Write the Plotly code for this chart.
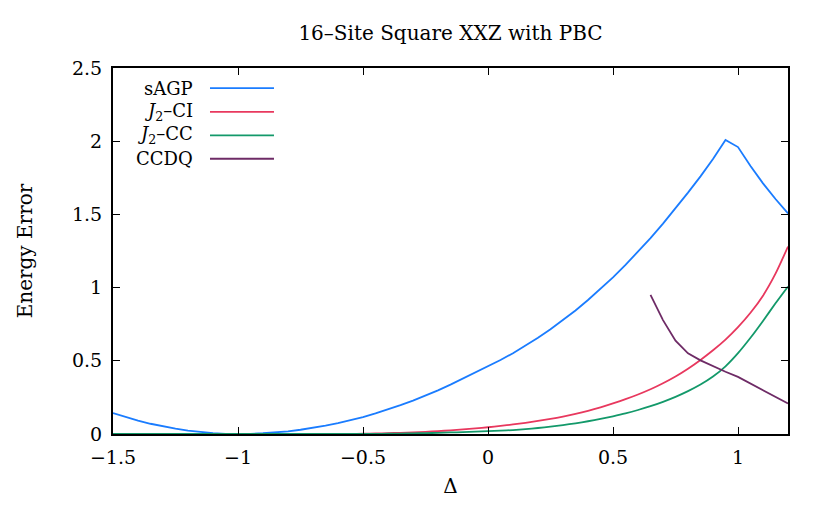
import plotly.graph_objects as go

# ---- data ----
delta = [-1.5, -1.45, -1.4, -1.35, -1.3, -1.25, -1.2, -1.15, -1.1, -1.05, -1.0, -0.95, -0.9, -0.85, -0.8,
         -0.75, -0.7, -0.65, -0.6, -0.55, -0.5, -0.45, -0.4, -0.35, -0.3, -0.25, -0.2, -0.15, -0.1, -0.05,
         0.0, 0.05, 0.1, 0.15, 0.2, 0.25, 0.3, 0.35, 0.4, 0.45, 0.5, 0.55, 0.6, 0.65, 0.7, 0.75, 0.8, 0.85,
         0.9, 0.95, 1.0, 1.05, 1.1, 1.15, 1.2]
sagp = [0.143, 0.116, 0.091, 0.070, 0.051, 0.036, 0.023, 0.013, 0.006, 0.0014, 0.0, 0.001, 0.005, 0.0105, 0.0186,
        0.029, 0.042, 0.057, 0.0745, 0.094, 0.116, 0.141, 0.168, 0.197, 0.228, 0.262, 0.298, 0.337, 0.378, 0.420,
        0.462, 0.505, 0.552, 0.602, 0.657, 0.715, 0.777, 0.844, 0.915, 0.990, 1.070, 1.155, 1.244, 1.338, 1.437,
        1.540, 1.649, 1.760, 1.879, 2.008, 1.960, 1.830, 1.712, 1.605, 1.507]
j2_ci = [0.0, 0.0, 0.0, 0.0, 0.0, 0.0, 0.0, 0.0, 0.0, 0.0, 0.0, 0.0, 0.0, 0.0, 0.0,
         0.0, 0.0, 0.0, 0.0005, 0.001, 0.002, 0.0035, 0.0055, 0.008, 0.011, 0.015, 0.0195, 0.025, 0.031, 0.038,
         0.046, 0.055, 0.065, 0.076, 0.089, 0.103, 0.119, 0.137, 0.158, 0.182, 0.209, 0.238, 0.270, 0.306, 0.347,
         0.393, 0.446, 0.506, 0.572, 0.645, 0.730, 0.828, 0.945, 1.095, 1.280]
j2_cc = [0.0, 0.0, 0.0, 0.0, 0.0, 0.0, 0.0, 0.0, 0.0, 0.0, 0.0, 0.0, 0.0, 0.0, 0.0,
         0.0, 0.0, 0.0, 0.0, 0.0, 0.0005, 0.001, 0.002, 0.003, 0.0045, 0.006, 0.008, 0.0105, 0.013, 0.016,
         0.020, 0.023, 0.027, 0.033, 0.041, 0.050, 0.061, 0.073, 0.087, 0.103, 0.121, 0.141, 0.164, 0.190, 0.220,
         0.254, 0.293, 0.338, 0.3925, 0.4625, 0.5525, 0.6575, 0.7725, 0.8925, 1.0075]

delta_ccdq = [0.65, 0.7, 0.75, 0.8, 0.85, 0.9, 0.95, 1.0, 1.05, 1.1, 1.15, 1.2]
ccdq = [0.95, 0.778, 0.638, 0.551, 0.503, 0.462, 0.425, 0.39, 0.345, 0.299, 0.254, 0.208]

series_names = ["sAGP", "<i>J</i><sub>2</sub>–CI", "<i>J</i><sub>2</sub>–CC", "CCDQ"]
series_colors = ["#1a7cff", "#e8385e", "#13996a", "#6e2b66"]
series_shapes = ["linear", "spline", "spline", "linear"]

x_ticks = [-1.5, -1, -0.5, 0, 0.5, 1]
y_ticks = [0, 0.5, 1, 1.5, 2, 2.5]

FONT = "DejaVu Serif"

fig = go.Figure()
xs = [delta, delta, delta, delta_ccdq]
ys = [sagp, j2_ci, j2_cc, ccdq]
for x, y, name, c, shp in zip(xs, ys, series_names, series_colors, series_shapes):
    fig.add_trace(go.Scatter(x=x, y=y, mode="lines", name=name,
                             line=dict(color=c, width=1.8, shape=shp, smoothing=0.6),
                             showlegend=False))

# gnuplot-style legend: right-aligned text followed by a line sample
leg_y = [0.945, 0.880, 0.816, 0.752]
for name, c, ly in zip(series_names, series_colors, leg_y):
    fig.add_annotation(x=0.1215, y=ly, xref="paper", yref="paper", text=name,
                       showarrow=False, xanchor="right", yanchor="middle",
                       font=dict(family=FONT, size=18, color="black"))
    fig.add_shape(type="line", xref="paper", yref="paper", x0=0.1437, x1=0.2385,
                  y0=ly, y1=ly, line=dict(color=c, width=1.8))

axis_common = dict(showline=True, linecolor="black", linewidth=2, mirror="ticks",
                   ticks="inside", ticklen=7, tickcolor="black", tickwidth=1,
                   showgrid=False, zeroline=False,
                   tickfont=dict(family=FONT, size=19, color="black"))

fig.update_layout(
    width=830, height=508,
    margin=dict(l=105, r=50, t=60, b=82),
    paper_bgcolor="white", plot_bgcolor="white",
    title=dict(text="16–Site Square XXZ with PBC", x=0.5, xref="paper", xanchor="center",
               y=1 - 25 / 508, yref="container", yanchor="middle",
               font=dict(family=FONT, size=20, color="black")),
    xaxis=dict(range=[-1.5, 1.2], tickvals=x_ticks,
               ticktext=[("−" if v < 0 else "") + f"{abs(v):g}" for v in x_ticks],
               title=dict(text="Δ", standoff=12, font=dict(family=FONT, size=20, color="black")),
               ticklabelstandoff=5, **axis_common),
    yaxis=dict(range=[0, 2.5], tickvals=y_ticks, ticktext=[f"{v:g}" for v in y_ticks],
               title=dict(text="Energy Error", standoff=34, font=dict(family=FONT, size=20, color="black")),
               ticklabelstandoff=5, **axis_common),
)

fig.write_html("out.html")
